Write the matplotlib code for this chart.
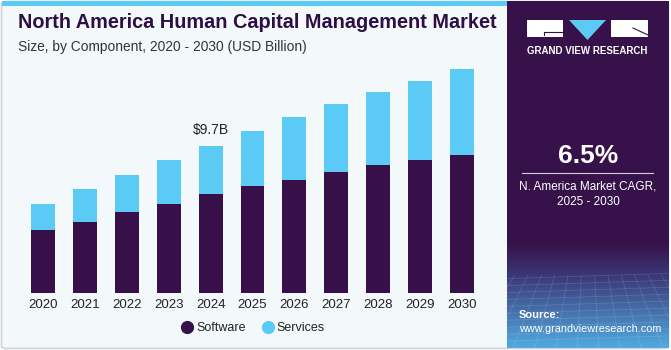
import numpy as np
import matplotlib
matplotlib.use("Agg")
import matplotlib.pyplot as plt
from matplotlib.patches import Rectangle, FancyBboxPatch, Polygon
from matplotlib.lines import Line2D

plt.rcParams['font.family'] = ['Liberation Sans', 'DejaVu Sans']

# Données (USD milliards)
annees = ['2020', '2021', '2022', '2023', '2024', '2025', '2026', '2027', '2028', '2029', '2030']
logiciel = [4.15, 4.67, 5.31, 5.84, 6.50, 7.04, 7.44, 7.97, 8.41, 8.76, 9.08]
services = [1.71, 2.15, 2.48, 2.92, 3.20, 3.62, 4.17, 4.49, 4.80, 5.18, 5.65]
etiquette_annee = '2024'
etiquette_texte = '$9.7B'

titre = "North America Human Capital Management Market"
sous_titre = "Size, by Component, 2020 - 2030 (USD Billion)"
cagr = "6.5%"
cagr_texte = "N. America Market CAGR,\n2025 - 2030"

# Couleurs
violet = '#37104a'
cyan = '#5bcaf5'
fond = '#f3f8fb'

W, H = 671, 350
fig = plt.figure(figsize=(W / 100, H / 100), dpi=100)
fig.patch.set_facecolor('white')

def fx(px):
    return px / W

def fy(py):
    return 1 - py / H

# Fond du panneau gauche + bordure
fig.patches.append(FancyBboxPatch((fx(1.5), fy(348.5)), fx(667), 347 / H,
                                  boxstyle="round,pad=0,rounding_size=0.008",
                                  transform=fig.transFigure, facecolor=fond,
                                  edgecolor='#cfd3d6', linewidth=1.2, zorder=-2))
# Bande cyan en haut
fig.patches.append(Rectangle((fx(1.5), fy(6)), fx(506), 5 / H, transform=fig.transFigure,
                             facecolor=cyan, edgecolor='none', zorder=-1))

# Panneau droit sombre avec dégradé en bas
ax_r = fig.add_axes([fx(507), fy(348), fx(162), 347 / H])
ax_r.set_zorder(1)
ax_r.set_xlim(0, 1)
ax_r.set_ylim(0, 1)
ax_r.axis('off')
n = 300
t = np.linspace(0, 1, n)
c_top = np.array([0x37, 0x11, 0x4a]) / 255
c_mid = np.array([0x3a, 0x3c, 0x7a]) / 255
c_bot = np.array([0x52, 0xaa, 0xe0]) / 255
f1 = np.clip((t - 0.70) / 0.10, 0, 1)[:, None]
f2 = np.clip((t - 0.80) / 0.20, 0, 1)[:, None]
grad = c_top * (1 - f1) + c_mid * f1
grad = grad * (1 - f2) + c_bot * f2
grad = np.repeat(grad[:, None, :], 10, axis=1)
ax_r.imshow(grad, extent=[0, 1, 0, 1], aspect='auto', origin='upper', zorder=0)
# Texture en grille (bas)
for yy in np.linspace(0.02, 0.20, 10):
    ax_r.plot([0, 1], [yy, yy + 0.015], color='white', alpha=0.13, lw=0.6, zorder=1)
for xx in np.linspace(-0.2, 1.2, 18):
    ax_r.plot([xx, 0.5 + (xx - 0.5) * 1.6], [0.21, 0.0], color='white', alpha=0.13, lw=0.6, zorder=1)

# Logo
fig.patches.append(Rectangle((fx(527), fy(37)), fx(36), 17 / H, transform=fig.transFigure,
                             facecolor='white', edgecolor='none', zorder=3))
fig.patches.append(Rectangle((fx(611), fy(37)), fx(37), 17 / H, transform=fig.transFigure,
                             facecolor='white', edgecolor='none', zorder=3))
fig.patches.append(Polygon([(fx(569), fy(20)), (fx(606), fy(20)), (fx(587.5), fy(40))],
                           closed=True, transform=fig.transFigure, facecolor=cyan,
                           edgecolor='none', zorder=3))
fig.lines.append(Line2D([fx(544), fx(563)], [fy(31.5), fy(31.5)], transform=fig.transFigure,
                        color=violet, lw=0.8, zorder=4))
fig.lines.append(Line2D([fx(544), fx(544)], [fy(31.5), fy(35)], transform=fig.transFigure,
                        color=violet, lw=0.8, zorder=4))
fig.lines.append(Line2D([fx(633), fx(648)], [fy(28), fy(35)], transform=fig.transFigure,
                        color=violet, lw=0.8, zorder=4))
fig.text(fx(587.5), fy(51), "GRAND VIEW RESEARCH", color='white', fontsize=7,
         fontweight='bold', ha='center', va='center')

# CAGR
fig.text(fx(588), fy(156), cagr, color='white', fontsize=19, fontweight='bold',
         ha='center', va='center')
fig.lines.append(Line2D([fx(522), fx(653)], [fy(173), fy(173)], transform=fig.transFigure,
                        color='white', lw=0.8, alpha=0.8, zorder=4))
fig.text(fx(588), fy(194), cagr_texte, color='white', fontsize=8.5, ha='center',
         va='center', linespacing=1.35)

# Source
fig.text(fx(519), fy(315), "Source:", color='white', fontsize=8, fontweight='bold',
         ha='left', va='center')
fig.text(fx(519), fy(329), "www.grandviewresearch.com", color='white', fontsize=7.8,
         ha='left', va='center')

# Titres
fig.text(fx(18), fy(23), titre, color='#2d0f45', fontsize=14.3, fontweight='bold',
         ha='left', va='center')
fig.text(fx(18), fy(47), sous_titre, color='#333333', fontsize=9.9, ha='left', va='center')

# Graphique
ymax = 16
ax = fig.add_axes([fx(22), fy(293), fx(461), (ymax * 15.19) / H])
ax.set_zorder(5)
ax.set_facecolor('none')
x = np.arange(len(annees))
ax.bar(x, logiciel, width=0.57, color=violet, zorder=2)
ax.bar(x, services, width=0.57, bottom=logiciel, color=cyan, zorder=2)
ax.set_xlim(-0.5, len(annees) - 0.5)
ax.set_ylim(0, ymax)
ax.set_xticks(x)
ax.set_xticklabels(annees, fontsize=9.5, color='#222222')
ax.tick_params(axis='x', length=0, pad=4)
ax.set_yticks([])
for s in ax.spines.values():
    s.set_visible(False)

i = annees.index(etiquette_annee)
ax.text(x[i], logiciel[i] + services[i] + 0.55, etiquette_texte, ha='center', va='bottom',
        fontsize=10, color='#222222')

# Légende
poignees = [Line2D([], [], marker='o', linestyle='none', markersize=8.5, color=violet),
            Line2D([], [], marker='o', linestyle='none', markersize=8.5, color=cyan)]
fig.legend(poignees, ['Software', 'Services'], loc='center', ncol=2, frameon=False,
           bbox_to_anchor=(fx(253), fy(328)), fontsize=9, handletextpad=0.2,
           columnspacing=1.3, handlelength=1.0, labelcolor='#222222')

fig.savefig('out.png', dpi=100, facecolor=fig.get_facecolor())
